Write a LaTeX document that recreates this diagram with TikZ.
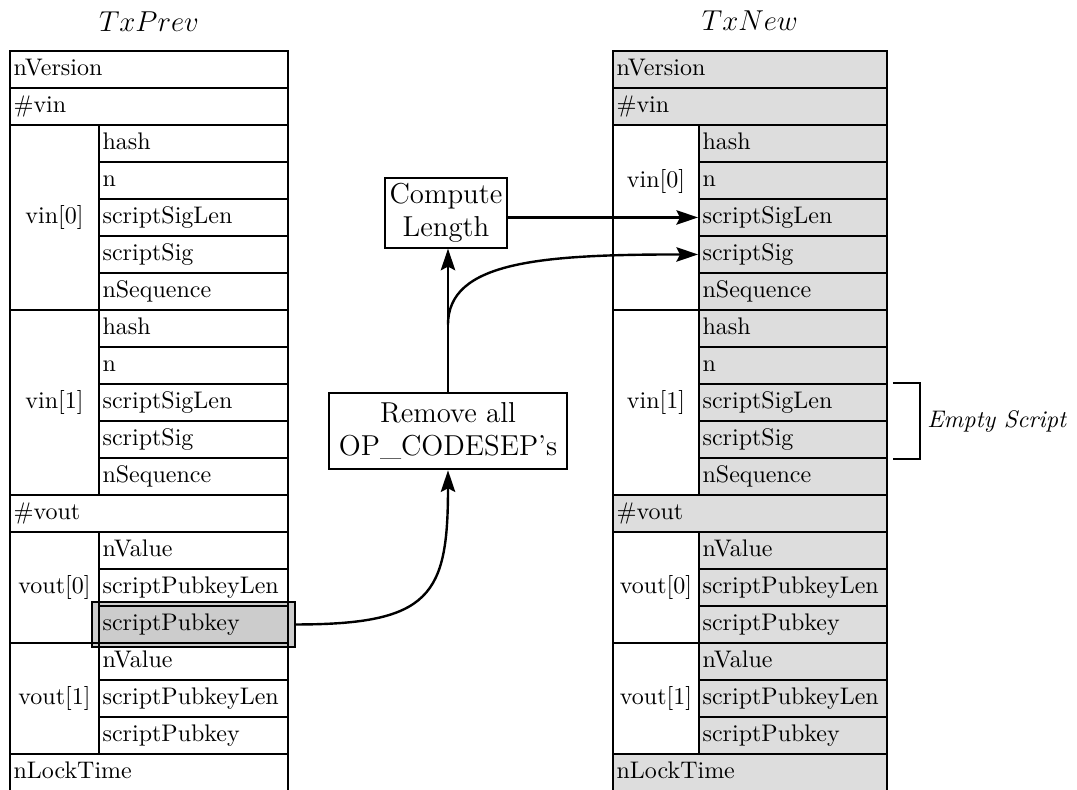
\documentclass[tikz,border=0pt]{standalone}
\usetikzlibrary{arrows.meta,fit}

%% One pixel of the drawing.
\def\px{0.4167pt}

\tikzset{
  cell/.style={draw, thick, anchor=north west, inner xsep=1.5pt, inner ysep=0pt,
    minimum height=37*\px, text height=1.6ex, text depth=.4ex, align=left},
  grpcell/.style={draw, thick, anchor=north west, inner sep=0pt, fill=white},
  stepbox/.style={draw, thick, font=\large, align=center, inner sep=2pt},
  flow/.style={line width=1pt, -{Stealth[length=9pt,width=6pt,inset=1.5pt]}},
}

\begin{document}
\begin{tikzpicture}[x=\px, y=-\px]
  %% Height of one row of a transaction.
  \def\rowh{37}
  %% Top of both transactions.
  \def\top{50}

  \useasboundingbox (0,0) rectangle (1077,789);

  %% Draw the two transactions (left edge, column split, right edge, fill).
  \foreach \tx/\xa/\xb/\xc/\fc/\up in {P/9/98/287/white/0, N/612/698/886/gray!27/36}{
    \pgfmathsetmacro\wall{(\xc-\xa)*0.4167-3}
    \pgfmathsetmacro\wfld{(\xc-\xb)*0.4167-3}
    \pgfmathsetmacro\wgrp{(\xb-\xa)*0.4167}

    %% Fields across the whole width.
    \foreach \rw/\nm/\txt in {0/nVersion/nVersion, 1/nvin/\#vin, 12/nvout/\#vout, 19/nLockTime/nLockTime}
      \node[cell, fill=\fc, text width=\wall pt] (\tx-\nm) at (\xa, \top+\rw*\rowh) {\txt};

    %% The input and output groups.
    \foreach \grp/\rw/\nr/\txt/\k in {vin0/2/5/vin[0]/1, vin1/7/5/vin[1]/0, vout0/13/3/vout[0]/0, vout1/16/3/vout[1]/0}{
      \node[grpcell, minimum width=\wgrp pt, minimum height=\nr*\rowh*\px] (\tx-\grp) at (\xa, \top+\rw*\rowh) {};
      \node (\tx-\grp-lbl) at ([yshift=\k*\up*\px]\tx-\grp.center) {\txt};
    }

    %% Fields of the inputs.
    \foreach \grp/\rw in {vin0/2, vin1/7}
      \foreach \fld/\txt [count=\i from 0] in {hash/hash, n/n, sigLen/scriptSigLen, sig/scriptSig, seq/nSequence}
        \node[cell, fill=\fc, text width=\wfld pt] (\tx-\grp-\fld) at (\xb, \top+\rw*\rowh+\i*\rowh) {\txt};

    %% Fields of the outputs.
    \foreach \grp/\rw in {vout0/13, vout1/16}
      \foreach \fld/\txt [count=\i from 0] in {val/nValue, pkLen/scriptPubkeyLen, pk/scriptPubkey}
        \node[cell, fill=\fc, text width=\wfld pt] (\tx-\grp-\fld) at (\xb, \top+\rw*\rowh+\i*\rowh) {\txt};
  }

  %% Titles.
  \node[font=\large] (prevtitle) at ([yshift=28*\px]P-nVersion.north) {$TxPrev$};
  \node[font=\large] (newtitle) at ([yshift=29*\px]N-nVersion.north) {$TxNew$};

  %% The script that is signed.
  \node[draw, thick, fill=black, fill opacity=0.2, inner xsep=6*\px, inner ysep=3*\px,
    fit=(P-vout0-pk)] (hilite) {};

  %% The two steps.
  \node[stepbox] (len) at (446,213) {Compute\\Length};
  \node[stepbox, inner xsep=4pt, inner ysep=4pt] (strip) at (448,431) {Remove all\\OP\_CODESEP's};

  %% Connectors.
  \draw[flow] (hilite.east) .. controls +(135,0) and +(0,125) .. (strip.south);
  \draw[flow] (strip.north) -- (strip.north |- len.south);
  \path (strip.north) ++(0,-67) coordinate (fork);
  \draw[flow] (fork) .. controls +(0,-63) and +(-158,0) .. (N-vin0-sig.west);
  \draw[flow] (len.east |- N-vin0-sigLen.west) -- (N-vin0-sigLen.west);

  %% Bracket for the empty script.
  \draw[thick] ([xshift=5*\px]N-vin1-sigLen.north east) -- ++(27,0)
    |- ([xshift=5*\px]N-vin1-sig.south east);
  \path (N-vin1-sigLen.south east) ++(31,0) node[anchor=west, font=\itshape] (empty) {Empty Script};
\end{tikzpicture}
\end{document}
